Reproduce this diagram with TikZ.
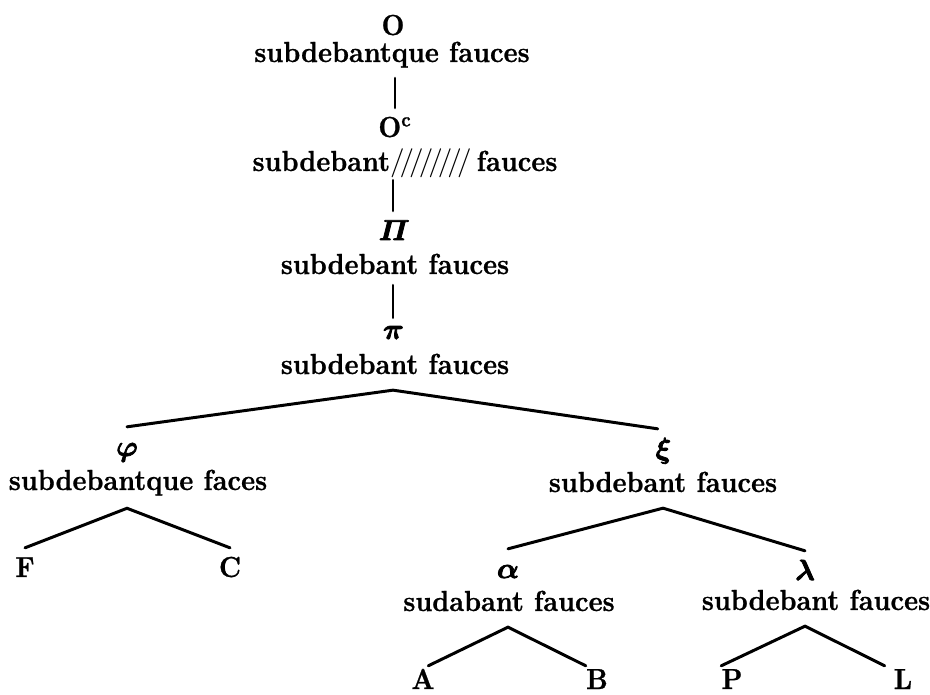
\RequirePackage{fix-cm}
\documentclass[tikz,border=0pt]{standalone}
\usepackage[no-math]{fontspec}
\setmainfont{lmroman10-regular.otf}[BoldFont=lmroman10-bold.otf, BoldFeatures={FakeBold=0.8, FakeStretch=0.915}]
\newcommand\slsh{{\mdseries/}\kern-0.17em}
\newcommand\bgr[1]{{\special{pdf:literal direct 2 Tr 0.45 w}\usefont{OML}{cmm}{b}{it}\char#1\special{pdf:literal direct 0 Tr}}}
\tikzset{
  sym/.style={inner sep=0pt, anchor=base, text height=16.4pt, text depth=0pt},
  txt/.style={inner sep=0pt, anchor=base, text height=11pt, text depth=9pt},
  branch/.style={line width=1.7pt, line cap=round}
}
\begin{document}
\begin{tikzpicture}[x=0.02cm, y=-0.02cm, font=\fontsize{16.5pt}{19pt}\selectfont\bfseries]
\useasboundingbox (0,0) rectangle (930,695);
% nodes
\node[sym] (O) at (393,35) {O};
\node[txt] (tO) at (392,62) {subdebantque fauces};
\node[sym] (Oc) at (395,137) {O\textsuperscript{c}};
\node[txt, text depth=5.1pt] (tOc) at (405,171) {subdebant\slsh\slsh\slsh\slsh\slsh\slsh\slsh\slsh\ fauces};
\node[sym] (Pi) at (393,240) {\bgr{"05}};
\node[txt, text depth=6.2pt] (tPi) at (395,274) {subdebant fauces};
\node[sym, text height=11.9pt] (pi) at (393,339) {\bgr{"19}};
\node[txt] (tpi) at (395,374) {subdebant fauces};
\node[sym] (phi) at (127,456) {\bgr{"27}};
\node[txt, text depth=10.2pt] (tphi) at (138,490) {subdebantque faces};
\node[sym] (F) at (25,577) {F};
\node[sym] (C) at (230,577) {C};
\node[sym] (xi) at (663,458) {\bgr{"18}};
\node[txt] (txi) at (663,492) {subdebant fauces};
\node[sym] (alpha) at (508,578) {\bgr{"0B}};
\node[txt] (talpha) at (509,611) {sudabant fauces};
\node[sym] (lambda) at (805,580) {\bgr{"15}};
\node[txt] (tlambda) at (816,610) {subdebant fauces};
\node[sym, text height=13pt] (A) at (423,689) {A};
\node[sym, text height=13pt] (B) at (597,689) {B};
\node[sym, text height=13pt] (P) at (732,689) {P};
\node[sym, text height=13pt] (L) at (903,689) {L};
% connectors
\draw[branch] (Oc.north |- tO.south) -- (Oc.north);
\draw[branch] (Pi.north |- tOc.south) -- (Pi.north);
\draw[branch] (pi.north |- tPi.south) -- (pi.north);
\draw[branch] (phi.north) -- (pi |- tpi.south) -- ([xshift=-3pt]xi.north);
\draw[branch] (F.north) -- (phi |- tphi.south) -- (C.north);
\draw[branch] (alpha.north) -- (xi |- txi.south) -- (lambda.north);
\draw[branch] ([xshift=3pt]A.north) -- (alpha |- talpha.south) -- (B.north west);
\draw[branch] (P.north west) -- (lambda |- tlambda.south) -- ([xshift=-5pt]L.north west);
\end{tikzpicture}
\end{document}
